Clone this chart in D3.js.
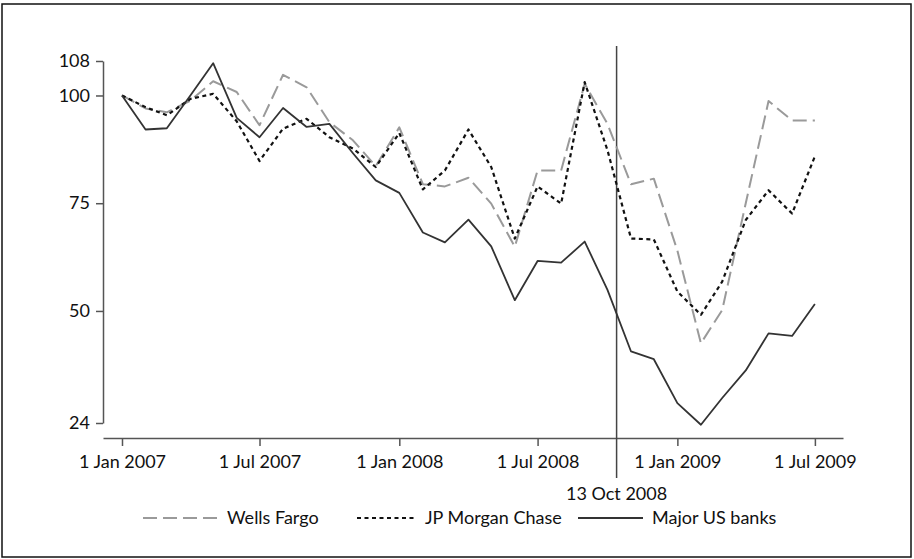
<!DOCTYPE html>
<html>
<head>
	<script src="https://d3js.org/d3.v7.min.js"></script>
	<style>
		html, body { margin: 0; padding: 0; background: #fff; }
		svg { display: block; }
		text { font-family: Lato, "Open Sans", sans-serif; fill: #111; }
	</style>
</head>
<body>
	<svg id="chart" width="914" height="559"></svg>
	<script>
		// monthly observations, Jan 2007 .. Jul 2009
		const months = ["2007-01", "2007-02", "2007-03", "2007-04", "2007-05", "2007-06", "2007-07", "2007-08", "2007-09", "2007-10", "2007-11", "2007-12",
			"2008-01", "2008-02", "2008-03", "2008-04", "2008-05", "2008-06", "2008-07", "2008-08", "2008-09", "2008-10", "2008-11", "2008-12",
			"2009-01", "2009-02", "2009-03", "2009-04", "2009-05", "2009-06", "2009-07"];

		const wellsFargo = [100, 97, 96.1, 98.8, 103.3, 100.8, 93.1, 104.8, 101.9, 93.8, 89.6, 83.6,
			92.6, 79.4, 78.9, 80.9, 74.9, 64.9, 82.6, 82.6, 102.7, 93.4, 79.4, 80.7,
			64, 42.5, 50.2, 75, 98.7, 94.2, 94.2];
		const jpMorgan = [100, 97.3, 95.4, 99.2, 100.4, 94, 84.8, 92.3, 94.6, 90.3, 87.7, 83.4,
			91.3, 78.2, 82.6, 92.1, 83.4, 66.8, 78.9, 74.9, 103.1, 87.3, 66.8, 66.6,
			54.5, 49.1, 56.8, 71.1, 78, 72.6, 85.9];
		const majorBanks = [100, 92.1, 92.4, 100, 107.5, 94.8, 90.3, 97.1, 92.7, 93.4, 86.6, 80.3,
			77.4, 68.2, 65.9, 71.2, 65.0, 52.5, 61.6, 61.2, 66.1, 54.9, 40.6, 38.8,
			28.6, 23.6, 29.8, 36.2, 44.8, 44.2, 51.6];

		const yTicks = [24, 50, 75, 100, 108];
		const xTicks = ["2007-01-01", "2007-07-01", "2008-01-01", "2008-07-01", "2009-01-01", "2009-07-01"];
		const xTickLabels = ["1 Jan 2007", "1 Jul 2007", "1 Jan 2008", "1 Jul 2008", "1 Jan 2009", "1 Jul 2009"];
		const eventDate = "2008-10-13";
		const eventLabel = "13 Oct 2008";

		const seriesNames = ["Wells Fargo", "JP Morgan Chase", "Major US banks"];

		const parseDay = d3.timeParse("%Y-%m-%d");
		const parseMonth = d3.timeParse("%Y-%m");

		const svg = d3.select("#chart");

		// outer frame
		svg.append("rect")
			.attr("x", 2).attr("y", 4)
			.attr("width", 909).attr("height", 553)
			.attr("fill", "none").attr("stroke", "#111").attr("stroke-width", 1.5);

		const x = d3.scaleTime()
			.domain([parseDay("2006-12-07"), parseDay("2009-08-07")])
			.range([103, 843]);

		const y = d3.scaleLinear()
			.domain([24, 108])
			.range([423, 61]);

		// y axis
		const yAxis = svg.append("g")
			.attr("transform", "translate(103,0)")
			.call(d3.axisLeft(y).tickValues(yTicks).tickSize(7).tickSizeOuter(0).tickPadding(6).tickFormat(d3.format("d")));

		// x axis
		const xAxis = svg.append("g")
			.attr("transform", "translate(0,438)")
			.call(d3.axisBottom(x).tickValues(xTicks.map(parseDay)).tickSize(8).tickSizeOuter(0).tickPadding(9)
				.tickFormat((d, i) => xTickLabels[i]));

		[yAxis, xAxis].forEach(function (g) {
			g.select(".domain").attr("stroke", "#555").attr("stroke-width", 1.5);
			g.selectAll(".tick line").attr("stroke", "#555").attr("stroke-width", 1.5);
			g.selectAll(".tick text").attr("font-size", 18).attr("fill", "#111")
				.style("font-family", "Lato, 'Open Sans', sans-serif");
		});

		// event line
		svg.append("line")
			.attr("x1", x(parseDay(eventDate))).attr("x2", x(parseDay(eventDate)))
			.attr("y1", 46).attr("y2", 478)
			.attr("stroke", "#444").attr("stroke-width", 1.5);

		svg.append("text")
			.attr("x", x(parseDay(eventDate)))
			.attr("y", 500)
			.attr("text-anchor", "middle")
			.attr("font-size", 18)
			.text(eventLabel);

		const styles = [
			{ values: wellsFargo, color: "#9a9a9a", width: 2, dash: "14,6" },
			{ values: jpMorgan, color: "#111", width: 2.2, dash: "4,3.5" },
			{ values: majorBanks, color: "#333", width: 1.8, dash: null }
		];

		const line = d3.line()
			.x(function (d, i) { return x(parseMonth(months[i])); })
			.y(function (d) { return y(d); });

		styles.forEach(function (s) {
			svg.append("path")
				.datum(s.values)
				.attr("fill", "none")
				.attr("stroke", s.color)
				.attr("stroke-width", s.width)
				.attr("stroke-dasharray", s.dash)
				.attr("stroke-linejoin", "round")
				.attr("d", line);
		});

		// legend: sample start / end per entry
		const legendSpans = [[143, 218], [357, 416], [578, 643]];
		const legend = svg.append("g").attr("transform", "translate(0,518)");
		styles.forEach(function (s, i) {
			legend.append("line")
				.attr("x1", legendSpans[i][0]).attr("x2", legendSpans[i][1])
				.attr("y1", 0).attr("y2", 0)
				.attr("stroke", s.color)
				.attr("stroke-width", s.width)
				.attr("stroke-dasharray", s.dash);
			legend.append("text")
				.attr("x", legendSpans[i][1] + 9)
				.attr("y", 6)
				.attr("font-size", 18)
				.text(seriesNames[i]);
		});
	</script>
</body>
</html>
